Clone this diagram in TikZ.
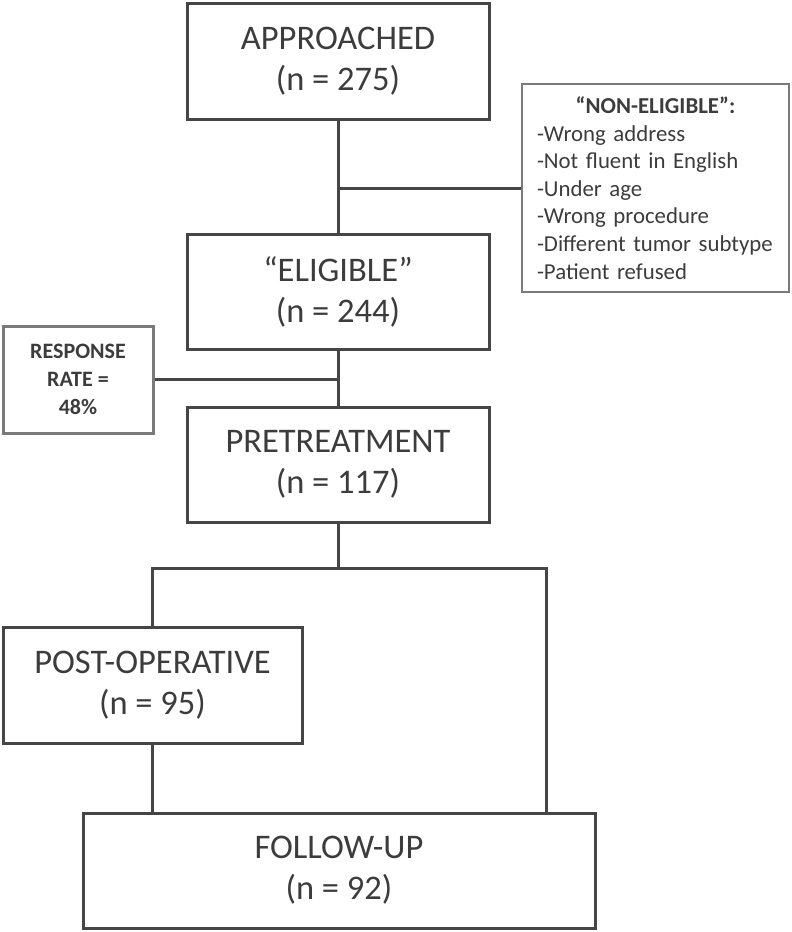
\documentclass[tikz,border=0pt]{standalone}
\usepackage{fontspec}
\setmainfont{Carlito}
\usepackage{tikz}
\definecolor{ink}{HTML}{3C3C3C}
\definecolor{frame}{HTML}{454545}
\definecolor{lightframe}{HTML}{7A7A7A}
\tikzset{
  stage/.style={draw=frame, line width=3pt, text=ink, align=center,
    font=\fontsize{34.5}{41}\selectfont, inner sep=0pt},
  link/.style={draw=frame, line width=3pt},
  sidenote/.style={draw=lightframe, text=ink, inner sep=0pt}
}
\newcommand{\stg}[2]{#1\\(n = #2)}

\begin{document}
\begin{tikzpicture}[x=1pt,y=-1pt]
       \useasboundingbox (0,0) rectangle (792,932);
       % main stages
       \node[stage, minimum width=302, minimum height=116] (appr) at (338,61) {\stg{APPROACHED}{275}};
       \node[stage, minimum width=302, minimum height=115] (elig) at (338,291.5) {\stg{“ELIGIBLE”}{244}};
       \node[stage, minimum width=302, minimum height=115] (pre) at (338,464.5) {\stg{PRETREATMENT}{117}};
       \node[stage, minimum width=299, minimum height=116] (post) at (152.5,685) {\stg{POST-OPERATIVE}{95}};
       \node[stage, minimum width=512, minimum height=115] (fup) at (339,870.5) {\stg{FOLLOW-UP}{92}};
       % side notes
       \node[sidenote, line width=2pt, minimum width=267, minimum height=208, text width=237,
             align=left, font=\fontsize{22.8}{27.6}\selectfont] (nonel) at (655.5,188)
             {\makebox[\linewidth][c]{\bfseries “NON-ELIGIBLE”:}\\ -Wrong address\\ -Not fluent in English\\
              -Under age\\ -Wrong procedure\\ -Different tumor subtype\\ -Patient refused};
       \node[sidenote, line width=3pt, minimum width=150, minimum height=107, align=center,
             font=\bfseries\fontsize{22}{28}\selectfont] (resp) at (78,379.5) {RESPONSE\\RATE =\\48\%};
       % connectors
       \coordinate (split) at (338,568);
       \coordinate (rgt) at (546,568);
       \draw[link] (appr.south) -- (elig.north);
       \draw[link] (nonel.west) -- (nonel.west -| appr.south);
       \draw[link] (elig.south) -- (pre.north);
       \draw[link] (resp.east) -- (resp.east -| elig.south);
       \draw[link] (pre.south) -- (split);
       \draw[link] (post.north) |- (split) -- (rgt) -- (rgt |- fup.north);
       \draw[link] (post.south) -- (post.south |- fup.north);
\end{tikzpicture}
\end{document}
